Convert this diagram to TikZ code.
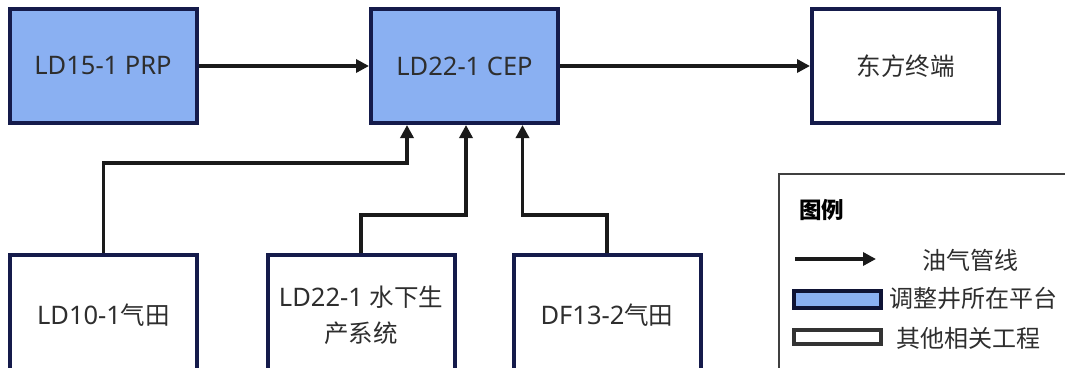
\documentclass[tikz,border=0pt]{standalone}
\usepackage{fontspec}
\setmainfont{Noto Sans}
\newfontfamily\cjk{Noto Sans CJK SC}
\usetikzlibrary{arrows.meta}
\definecolor{navy}{HTML}{151B4B}
\definecolor{boxblue}{HTML}{8AB0F2}
\definecolor{pipecol}{HTML}{1A1A1A}
\definecolor{txt}{HTML}{2E2E2E}
\newcommand{\zh}[1]{{\cjk\fontsize{24.5}{30}\selectfont #1}}
\tikzset{
  unitbox/.style={draw=navy, line width=4pt, inner sep=0pt, text=txt,
    font=\fontsize{25.5}{36}\selectfont, align=center},
  mainbox/.style={unitbox, fill=boxblue, minimum width=187pt, minimum height=114pt},
  otherbox/.style={unitbox, fill=white, minimum width=187pt, minimum height=114pt},
  lowbox/.style={unitbox, fill=white, minimum width=187pt, minimum height=120pt},
  pipe/.style={draw=pipecol, line width=3.4pt, -{Triangle[length=13pt,width=13pt]}},
  legtext/.style={text=txt, font=\cjk\fontsize{24}{28}\selectfont, inner sep=0pt},
}
\begin{document}
\begin{tikzpicture}[x=1pt,y=-1pt]
\clip (0,0) rectangle (1065,367);
\useasboundingbox (0,0) rectangle (1065,367);
\fill[white] (0,0) rectangle (1065,367);

\node[mainbox] (prp) at (103,66) {LD15-1 PRP};
\node[mainbox] (cep) at (464.5,66) {LD22-1 CEP};
\node[otherbox] (dongfang) at (905.5,66) {\zh{东方终端}};

\node[lowbox] (ld10) at (103.5,315) {LD10-1\zh{气田}};
\node[lowbox] (ld22) at (361,315) {LD22-1 \zh{水下生}\\\zh{产系统}};
\node[lowbox] (df13) at (607,315) {DF13-2\zh{气田}};

\draw[pipe] (prp.east) -- (cep.west);
\draw[pipe] (cep.east) -- (dongfang.west);

\coordinate (k1) at (407,163);
\coordinate (k2) at (466,215);
\coordinate (k3) at (522.5,215);
\draw[pipe] (ld10.north) |- (k1) -- (k1 |- cep.south);
\draw[pipe] (ld22.north) |- (k2) -- (k2 |- cep.south);
\draw[pipe] (df13.north) |- (k3) -- (k3 |- cep.south);

% legend
\draw[draw=black!75, line width=1.5pt] (779,174) rectangle (1075,372);
\node[legtext, anchor=west, font=\cjk\fontsize{22.5}{26}\selectfont\bfseries, text=black] (legtitle) at (799,210) {图例};
\coordinate (la1) at (795,259);
\coordinate (la2) at (876,259);
\draw[pipe] (la1) -- (la2);
\node[legtext] (lt1) at (970,260) {油气管线};
\node[draw=navy!70!black, line width=4pt, fill=boxblue, minimum width=87pt, minimum height=17pt, inner sep=0pt] (lb1) at (837.5,299.5) {};
\node[legtext, anchor=west] (lt2) at (889,298) {调整井所在平台};
\node[draw=black!80, line width=4pt, fill=white, minimum width=87pt, minimum height=14pt, inner sep=0pt] (lb2) at (837.5,336.5) {};
\node[legtext, anchor=west] (lt3) at (896,338) {其他相关工程};
\end{tikzpicture}
\end{document}
